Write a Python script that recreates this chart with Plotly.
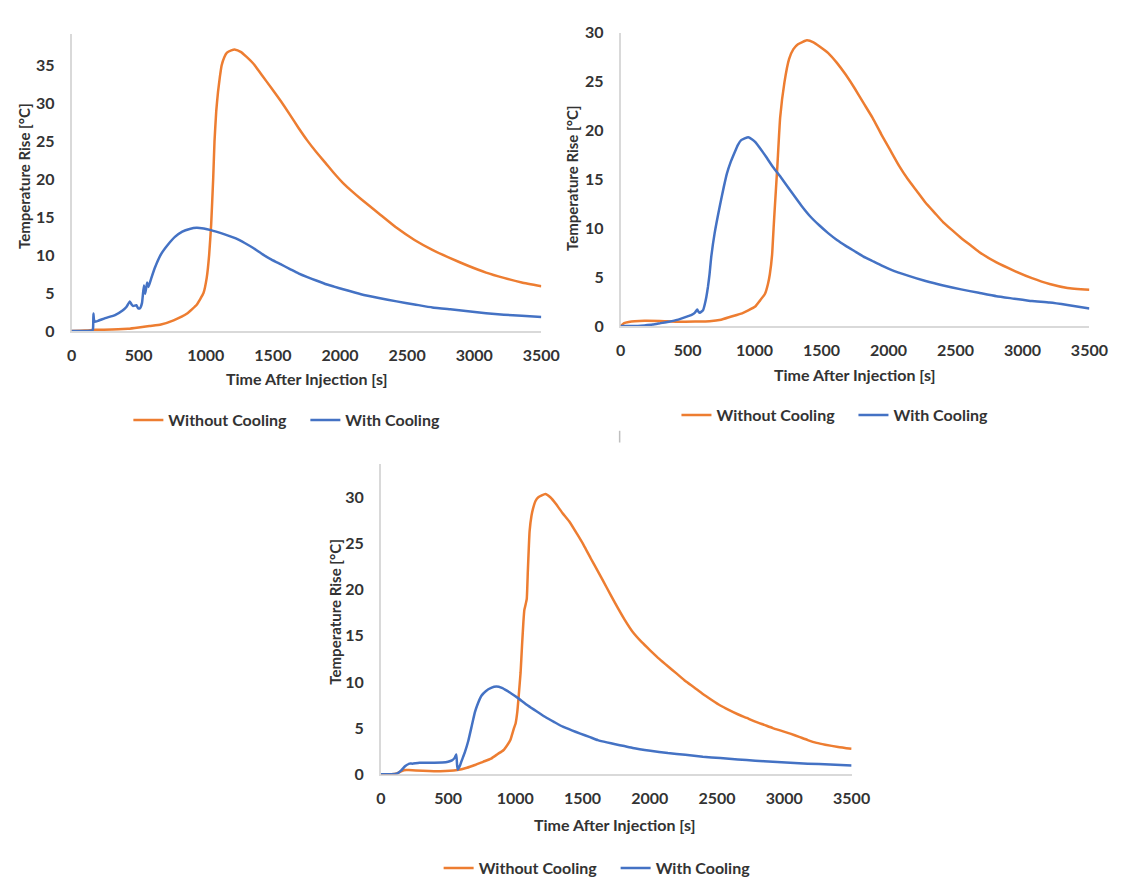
import plotly.graph_objects as go

# ---- Panel A ----
a_t_without = [0, 100, 180, 300, 420, 500, 580, 666, 760, 861, 934, 983, 1007, 1025, 1040, 1055, 1065,
               1078, 1091, 1105, 1118, 1138, 1158, 1190, 1220, 1260, 1300, 1357, 1420, 1490, 1560, 1624,
               1690, 1757, 1823, 1890, 1956, 2023, 2090, 2156, 2289, 2422, 2555, 2688, 2821, 2954, 3088,
               3221, 3354, 3500]
a_without = [0, 0.05, 0.15, 0.2, 0.28, 0.45, 0.65, 0.85, 1.4, 2.3, 3.5, 5.0, 7.0, 10, 14, 20, 25,
             29, 31.5, 33.5, 35, 36.1, 36.7, 37.0, 37.1, 36.8, 36.2, 35.2, 33.7, 32.0, 30.3, 28.6,
             26.8, 25.1, 23.6, 22.2, 20.8, 19.5, 18.4, 17.4, 15.5, 13.6, 12.0, 10.7, 9.6, 8.6, 7.7,
             7.0, 6.4, 5.9]
a_t_with = [0, 100, 154, 160, 163, 166, 172, 200, 251, 324, 380, 410, 434, 447, 459, 483, 495, 510,
            525, 539, 549, 563, 573, 593, 620, 666, 719, 770, 825, 880, 932, 985, 1038, 1130, 1224,
            1290, 1357, 1424, 1490, 1557, 1624, 1690, 1757, 1823, 1890, 1956, 2023, 2156, 2289, 2422,
            2555, 2688, 2821, 2954, 3088, 3221, 3354, 3500]
a_with = [0, 0, 0.05, 0.3, 2.3, 1.6, 1.2, 1.35, 1.7, 2.1, 2.7, 3.2, 3.9, 3.5, 3.3, 3.4, 3.0, 3.0,
          3.7, 6.0, 4.9, 6.4, 5.8, 6.9, 8.3, 10.1, 11.4, 12.4, 13.1, 13.45, 13.6, 13.5, 13.3, 12.8, 12.2,
          11.6, 10.9, 10.1, 9.4, 8.8, 8.2, 7.6, 7.1, 6.65, 6.2, 5.85, 5.5, 4.85, 4.35, 3.9,
          3.5, 3.1, 2.85, 2.6, 2.35, 2.15, 2.0, 1.85]

# ---- Panel B ----
b_t_without = [0, 26, 60, 106, 178, 291, 421, 556, 664, 750, 821, 907, 953, 1005, 1040, 1078, 1100,
               1114, 1131, 1142, 1152, 1170, 1191, 1223, 1258, 1290, 1324, 1390, 1440, 1483, 1550, 1615,
               1680, 1747, 1813, 1880, 1946, 2012, 2078, 2145, 2211, 2277, 2343, 2409, 2475, 2542, 2608,
               2674, 2806, 2939, 3071, 3203, 3336, 3500]
b_without = [0, 0.3, 0.42, 0.5, 0.55, 0.53, 0.45, 0.47, 0.5, 0.65, 0.95, 1.3, 1.6, 2.0, 2.6, 3.3, 4.3,
             5.3, 7.3, 10, 12.3, 16.3, 21.3, 24.9, 27.3, 28.3, 28.8, 29.2, 29.0, 28.6, 27.9, 26.9,
             25.7, 24.3, 22.8, 21.3, 19.6, 18.0, 16.4, 15.0, 13.8, 12.6, 11.6, 10.6, 9.8, 9.0, 8.3,
             7.6, 6.5, 5.65, 4.9, 4.3, 3.9, 3.7]
b_t_with = [0, 100, 178, 240, 299, 360, 421, 494, 530, 555, 572, 582, 591, 605, 616, 628, 640, 652,
            664, 676, 702, 741, 770, 794, 820, 847, 875, 900, 953, 980, 1006, 1045, 1086, 1140, 1191,
            1270, 1350, 1416, 1483, 1549, 1615, 1681, 1747, 1813, 1880, 1946, 2012, 2145, 2277, 2409,
            2542, 2674, 2806, 2939, 3071, 3203, 3336, 3500]
b_with = [0, 0, 0.07, 0.15, 0.3, 0.45, 0.63, 0.97, 1.15, 1.37, 1.7, 1.45, 1.37, 1.5, 1.63, 2.2, 2.97, 4.0,
          5.3, 7.0, 9.5, 12.3, 14.2, 15.6, 16.7, 17.6, 18.5, 19.0, 19.3, 19.1, 18.8, 18.1, 17.3, 16.2, 15.3,
          13.8, 12.3, 11.2, 10.3, 9.5, 8.8, 8.2, 7.65, 7.1, 6.65, 6.2, 5.8, 5.15, 4.6, 4.15,
          3.75, 3.4, 3.05, 2.8, 2.55, 2.4, 2.15, 1.8]

# ---- Panel C ----
c_t_without = [0, 78, 120, 156, 189, 208, 312, 442, 568, 640, 699, 760, 820, 870, 911, 942, 963, 990,
               1002, 1015, 1025, 1039, 1050, 1060, 1067, 1075, 1085, 1093, 1100, 1106, 1120, 1132, 1150,
               1171, 1223, 1260, 1301, 1350, 1405, 1460, 1509, 1560, 1613, 1680, 1743, 1810, 1873, 1940,
               2004, 2070, 2134, 2200, 2264, 2330, 2394, 2460, 2524, 2590, 2654, 2720, 2784, 2850, 2914,
               2980, 3044, 3110, 3174, 3240, 3304, 3400, 3500]
c_without = [0, 0, 0.1, 0.35, 0.45, 0.45, 0.38, 0.32, 0.45, 0.7, 1.0, 1.35, 1.7, 2.2, 2.6, 3.2, 3.7, 5.0,
             5.5, 6.8, 8.5, 11, 14, 16.5, 17.8, 18.3, 19.0, 22, 24.5, 26.3, 28.0, 28.8, 29.6,
             30.0, 30.35, 30.0, 29.3, 28.3, 27.3, 26.0, 24.8, 23.4, 22.0, 20.2, 18.5, 16.8, 15.4, 14.3,
             13.4, 12.5, 11.7, 10.9, 10.1, 9.4, 8.7, 8.05, 7.45, 6.95, 6.5, 6.1, 5.7, 5.35, 5.0,
             4.7, 4.4, 4.05, 3.7, 3.4, 3.2, 2.95, 2.75]
c_t_with = [0, 78, 117, 150, 182, 214, 234, 286, 360, 456, 500, 529, 550, 561, 567, 573, 590, 602, 625,
            650, 677, 699, 716, 748, 780, 820, 859, 900, 937, 975, 1015, 1093, 1160, 1223, 1290, 1353,
            1420, 1483, 1550, 1613, 1680, 1743, 1810, 1873, 2004, 2134, 2264, 2394, 2524, 2654, 2784,
            2914, 3044, 3174, 3340, 3500]
c_with = [0, 0, 0.05, 0.4, 0.9, 1.15, 1.15, 1.25, 1.25, 1.27, 1.35, 1.5, 1.8, 2.15, 1.0, 0.5, 1.0, 1.5, 2.4,
          3.6, 5.3, 6.7, 7.45, 8.5, 9.0, 9.35, 9.5, 9.35, 9.05, 8.7, 8.3, 7.45, 6.8, 6.2, 5.65, 5.15,
          4.75, 4.4, 4.05, 3.7, 3.45, 3.25, 3.05, 2.85, 2.55, 2.3, 2.1, 1.9, 1.75, 1.6, 1.47,
          1.35, 1.25, 1.15, 1.05, 0.95]

series_names = ["Without Cooling", "With Cooling"]
x_ticks = [0, 500, 1000, 1500, 2000, 2500, 3000, 3500]
x_title = "Time After Injection [s]"
y_title = "Temperature Rise [°C]"

ORANGE = "#ED7D31"
BLUE = "#4472C4"
TEXT = "#333333"
AXIS = "#d9d9d9"
FONT = "Lato"

W, H = 1128, 886


def px(x):
    return x / W


def py(y):
    return 1 - y / H


def tfont(size):
    return dict(family=FONT, size=size, color=TEXT, weight="bold")


panels = [
    # (axis suffix, legend name, times/values, x-domain px, y-domain px, y max)
    ("", "legend", a_t_without, a_without, a_t_with, a_with, (68, 548), (25, 328), 39.1),
    ("2", "legend2", b_t_without, b_without, b_t_with, b_with, (629, 1108), (23, 323), 30.0),
    ("3", "legend3", c_t_without, c_without, c_t_with, c_with, (384, 865), (464, 781), 33.6),
]

fig = go.Figure()
layout = dict(
    width=W, height=H,
    margin=dict(l=0, r=0, t=0, b=0),
    paper_bgcolor="white", plot_bgcolor="white",
    font=tfont(16),
)

for suf, leg, tw, vw, tc, vc, xd, yd, ymax in panels:
    xa, ya = "x" + suf, "y" + suf
    fig.add_trace(go.Scatter(x=tw, y=vw, mode="lines", name=series_names[0],
                             line=dict(color=ORANGE, width=2.5, shape="spline", smoothing=0.4),
                             xaxis=xa, yaxis=ya, legend=leg, legendwidth=132, cliponaxis=False))
    fig.add_trace(go.Scatter(x=tc, y=vc, mode="lines", name=series_names[1],
                             line=dict(color=BLUE, width=2.5, shape="spline", smoothing=0.4),
                             xaxis=xa, yaxis=ya, legend=leg, cliponaxis=False))
    layout["xaxis" + suf] = dict(
        domain=[px(xd[0]), px(xd[1])], anchor=ya, range=[0, 3500],
        tickvals=x_ticks, showgrid=False, zeroline=False,
        showline=True, linecolor=AXIS, linewidth=2, ticks="",
        ticklabelstandoff=9, layer="below traces", tickfont=tfont(16),
    )
    layout["yaxis" + suf] = dict(
        domain=[py(yd[1]), py(yd[0])], anchor=xa, range=[0, ymax],
        tickvals=list(range(0, int(ymax) + 1, 5)), showgrid=False, zeroline=False,
        showline=True, linecolor=AXIS, linewidth=1.5, ticks="",
        ticklabelstandoff=12, layer="below traces", tickfont=tfont(16),
    )

# legends under each panel
legend_pos = {"legend": (288, 419), "legend2": (848, 414), "legend3": (605, 877)}
for leg, (cx, cy) in legend_pos.items():
    layout[leg] = dict(
        orientation="h", x=px(cx), y=py(cy), xanchor="center", yanchor="middle",
        bgcolor="rgba(0,0,0,0)", font=tfont(16), itemwidth=30, tracegroupgap=0,
    )

# axis titles
annotations = []
x_title_pos = [(308, 377), (868, 372), (623, 832)]
y_title_pos = [(20, 170), (580, 172), (337, 615)]
for (x, y) in x_title_pos:
    annotations.append(dict(text=x_title, x=px(x), y=py(y), xref="paper", yref="paper",
                            showarrow=False, xanchor="center", yanchor="middle", font=tfont(16)))
for (x, y) in y_title_pos:
    annotations.append(dict(text=y_title, x=px(x), y=py(y), xref="paper", yref="paper",
                            showarrow=False, xanchor="center", yanchor="middle", textangle=-90,
                            font=tfont(15)))
layout["annotations"] = annotations

# stray axis stub below the upper-right panel
layout["shapes"] = [dict(type="line", xref="paper", yref="paper",
                         x0=px(628), x1=px(628), y0=py(442), y1=py(430),
                         line=dict(color="#bfbfbf", width=1.5))]

fig.update_layout(**layout)
fig.write_html(
    "out.html",
    post_script="document.body.style.margin='0';document.documentElement.style.overflow='hidden';",
)
